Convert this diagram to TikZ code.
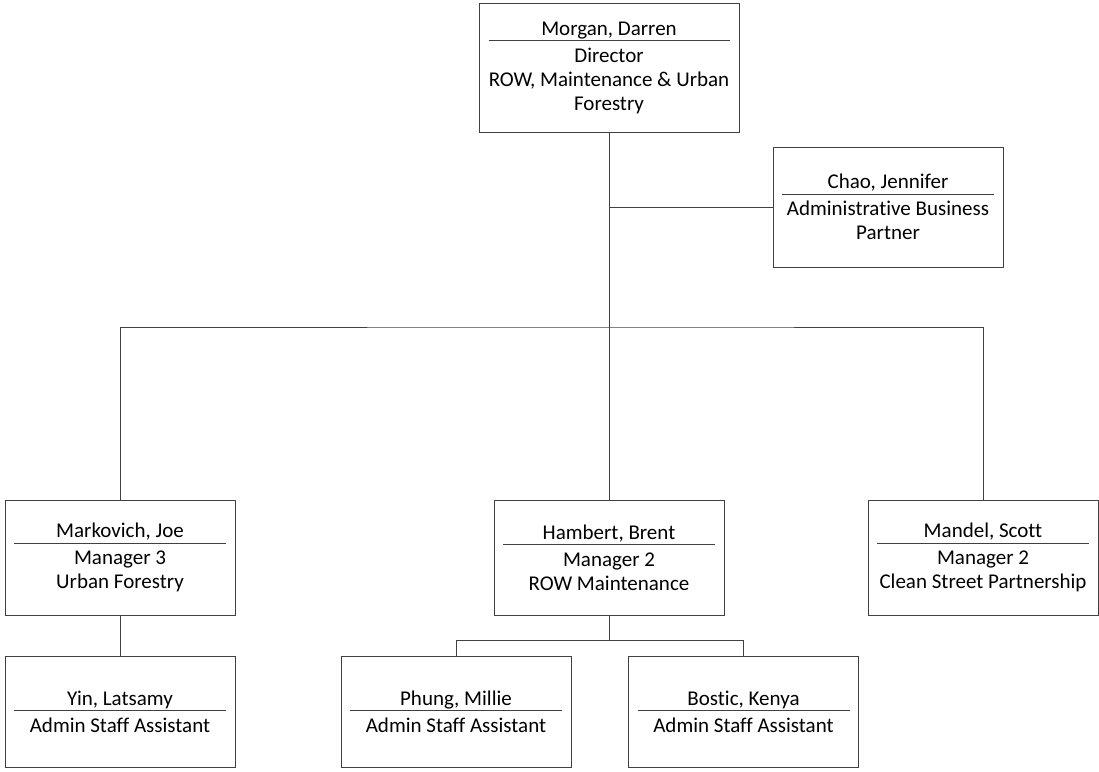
\documentclass[tikz,border=0pt]{standalone}
\usepackage{fontspec}
\setmainfont{Carlito}[Ligatures=CommonOff]
\newcommand{\nameline}[2]{\rlap{\color{black!75}\rule[-6pt]{#1}{0.9pt}}\makebox[#1]{#2}}

\begin{document}
\begin{tikzpicture}[x=1pt,y=1pt]
\tikzstyle{every node}+=[align=center,font=\fontsize{21}{24}\selectfont,inner sep=0pt]
\tikzstyle{box}=[draw=black!75,line width=1pt,minimum width=230,minimum height=115]
\tikzstyle{link}=[draw=black!75,line width=1pt]
\useasboundingbox (0,0) rectangle (1099,-771);

\draw (609,-67.5) node [box,minimum width=260,minimum height=129] (dir) {\nameline{241pt}{Morgan, Darren}\\[3pt] Director\\ ROW, Maintenance \& Urban\\ Forestry};
\draw (888,-207) node [box,minimum height=120] (chao) {\nameline{212pt}{Chao, Jennifer}\\[3pt] Administrative Business\\ Partner};

\draw (120,-557.5) node [box] (mark) {\nameline{212pt}{Markovich, Joe}\\[3pt] Manager 3\\ Urban Forestry};
\draw (609,-557.5) node [box] (hamb) {\nameline{212pt}{Hambert, Brent}\\[3pt] Manager 2\\ ROW Maintenance};
\draw (983,-557.5) node [box] (mand) {\nameline{212pt}{Mandel, Scott}\\[3pt] Manager 2\\ Clean Street Partnership};

\draw (120,-711.5) node [box,minimum height=111] (yin) {\nameline{212pt}{Yin, Latsamy}\\[3pt] Admin Staff Assistant};
\draw (456,-711.5) node [box,minimum height=111] (phung) {\nameline{212pt}{Phung, Millie}\\[3pt] Admin Staff Assistant};
\draw (743.5,-711.5) node [box,minimum height=111] (bostic) {\nameline{212pt}{Bostic, Kenya}\\[3pt] Admin Staff Assistant};

\coordinate (bus) at (609,-327);
\coordinate (rowbus) at (609,-640);

\draw [link] (dir.south) -- (hamb.north);
\draw [link] (chao.west) -- (chao.west -| dir.south);
\draw [link] (mark.north) |- (bus) -| (mand.north);

\draw [link] (mark.south) -- (yin.north);

\draw [link] (hamb.south) -- (rowbus);
\draw [link] (phung.north) |- (rowbus) -| (bostic.north);
\end{tikzpicture}
\end{document}
